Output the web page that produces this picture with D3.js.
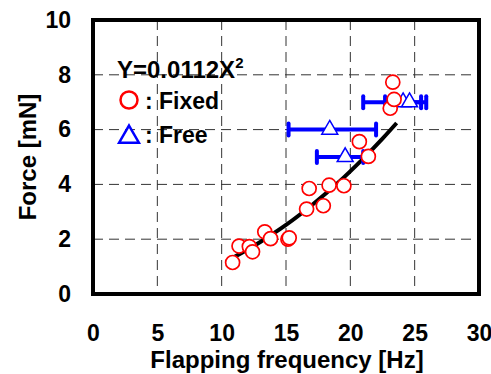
<!DOCTYPE html>
<html>
<head>
<meta charset="utf-8">
<script src="https://cdn.jsdelivr.net/npm/d3@7"></script>
<style>
body {margin:0; background:white;}
text {font-family:"Liberation Sans", Arial, sans-serif; font-weight:bold;}
</style>
</head>
<body>
<svg></svg>
<script>

// Fixed wing: [frequency Hz, force mN]
var fixedData = [
    [10.85,1.15],[11.35,1.75],[12.15,1.73],[12.4,1.54],[13.35,2.27],[13.8,2.02],
    [15.15,2.0],[15.25,2.05],[16.6,3.1],[16.8,3.85],[17.9,3.22],[18.35,3.97],
    [19.5,3.95],[20.7,5.56],[21.4,5.02],[23.1,6.78],[23.4,7.1],[23.3,7.73]
]

// Free flapping: [frequency, force, freq low, freq high]
var freeData = [
    [18.4,6.0,15.2,22.0],
    [19.6,5.0,17.4,21.0],
    [24.1,7.0,21.0,25.5],
    [24.6,7.0,22.7,25.9]
]

// fit curve (Y=0.0112X^2)
var fitLine = [[10.9,1.33],[13,1.9],[15,2.52],[17,3.24],[19,4.04],[21,4.94],[22.5,5.67],[23.6,6.24]]

var xTicks = [0,5,10,15,20,25,30]
var yTicks = [0,2,4,6,8,10]

var screen = {width:491,height:374}
var plot = {left:93,right:479,top:20,bottom:294}

var svg = d3.select("svg")
    .attr("width",screen.width)
    .attr("height",screen.height)

var xScale = d3.scaleLinear()
    .domain([0,30])
    .range([plot.left,plot.right])

var yScale = d3.scaleLinear()
    .domain([0,10])
    .range([plot.bottom,plot.top])

// grid
svg.append("g")
    .selectAll("line")
    .data(xTicks.slice(1,-1))
    .enter()
    .append("line")
    .attr("x1",function(d){return xScale(d)})
    .attr("x2",function(d){return xScale(d)})
    .attr("y1",plot.top)
    .attr("y2",plot.bottom)
    .attr("stroke","#333")
    .attr("stroke-width",1)
    .attr("stroke-dasharray","10,6")

svg.append("g")
    .selectAll("line")
    .data(yTicks.slice(1,-1))
    .enter()
    .append("line")
    .attr("x1",plot.left)
    .attr("x2",plot.right)
    .attr("y1",function(d){return yScale(d)})
    .attr("y2",function(d){return yScale(d)})
    .attr("stroke","#333")
    .attr("stroke-width",1)
    .attr("stroke-dasharray","10,6")

// axes labels
var xAxis = d3.axisBottom(xScale).tickValues(xTicks).tickSize(0).tickPadding(31)
var yAxis = d3.axisLeft(yScale).tickValues(yTicks).tickSize(0).tickPadding(22)

svg.append("g")
    .attr("transform","translate(0,"+plot.bottom+")")
    .call(xAxis)
    .call(function(g){g.select(".domain").remove()})
    .selectAll("text")
    .attr("font-size",23)
    .attr("font-family","Liberation Sans, Arial, sans-serif")
    .attr("font-weight","bold")
    .attr("fill","black")

svg.append("g")
    .attr("transform","translate("+plot.left+",0)")
    .call(yAxis)
    .call(function(g){g.select(".domain").remove()})
    .selectAll("text")
    .attr("font-size",23)
    .attr("font-family","Liberation Sans, Arial, sans-serif")
    .attr("font-weight","bold")
    .attr("fill","black")

svg.append("text")
    .attr("x",287)
    .attr("y",368)
    .attr("text-anchor","middle")
    .attr("font-size",24)
    .text("Flapping frequency [Hz]")

svg.append("text")
    .attr("transform","translate(36,157) rotate(-90)")
    .attr("text-anchor","middle")
    .attr("font-size",24)
    .text("Force [mN]")

// fit
var line = d3.line()
    .x(function(d){return xScale(d[0])})
    .y(function(d){return yScale(d[1])})
    .curve(d3.curveMonotoneX)

svg.append("path")
    .datum(fitLine)
    .attr("d",line)
    .attr("fill","none")
    .attr("stroke","black")
    .attr("stroke-width",4)

// free error bars
var bars = svg.append("g")
bars.selectAll(".bar")
    .data(freeData)
    .enter()
    .append("line")
    .attr("x1",function(d){return xScale(d[2])})
    .attr("x2",function(d){return xScale(d[3])})
    .attr("y1",function(d){return yScale(d[1])})
    .attr("y2",function(d){return yScale(d[1])})
    .attr("stroke","#0000ff")
    .attr("stroke-width",4)

freeData.forEach(function(d)
    {
        [d[2],d[3]].forEach(function(v)
            {
                bars.append("line")
                    .attr("x1",xScale(v))
                    .attr("x2",xScale(v))
                    .attr("y1",yScale(d[1])-6)
                    .attr("y2",yScale(d[1])+6)
                    .attr("stroke","#0000ff")
                    .attr("stroke-width",4)
                    .attr("stroke-linecap","round")
            })
    })

var tri = d3.symbol().type(d3.symbolTriangle).size(110)

svg.append("g")
    .selectAll("path")
    .data(freeData)
    .enter()
    .append("path")
    .attr("d",tri)
    .attr("transform",function(d){return "translate("+xScale(d[0])+","+yScale(d[1])+")"})
    .attr("fill","white")
    .attr("stroke","#0000ff")
    .attr("stroke-width",1.5)

// fixed circles
svg.append("g")
    .selectAll("circle")
    .data(fixedData)
    .enter()
    .append("circle")
    .attr("cx",function(d){return xScale(d[0])})
    .attr("cy",function(d){return yScale(d[1])})
    .attr("r",7)
    .attr("fill","white")
    .attr("stroke","#ff0000")
    .attr("stroke-width",1.7)

// border
svg.append("rect")
    .attr("x",plot.left)
    .attr("y",plot.top)
    .attr("width",plot.right-plot.left)
    .attr("height",plot.bottom-plot.top)
    .attr("fill","none")
    .attr("stroke","black")
    .attr("stroke-width",4)

// legend
var leg = svg.append("g")

var eq = leg.append("text")
    .attr("x",117)
    .attr("y",78)
    .attr("font-size",24)
eq.append("tspan").text("Y=0.0112X")
eq.append("tspan")
    .attr("font-size",15)
    .attr("dy",-10)
    .text("2")

leg.append("circle")
    .attr("cx",129)
    .attr("cy",100)
    .attr("r",8.5)
    .attr("fill","white")
    .attr("stroke","#ff0000")
    .attr("stroke-width",2.5)

leg.append("text")
    .attr("x",145)
    .attr("y",109)
    .attr("font-size",23)
    .text(": Fixed")

leg.append("path")
    .attr("d",d3.symbol().type(d3.symbolTriangle).size(170))
    .attr("transform","translate(129,137)")
    .attr("fill","white")
    .attr("stroke","#0000ff")
    .attr("stroke-width",2.5)

leg.append("text")
    .attr("x",145)
    .attr("y",143)
    .attr("font-size",23)
    .text(": Free")

</script>
</body>
</html>
